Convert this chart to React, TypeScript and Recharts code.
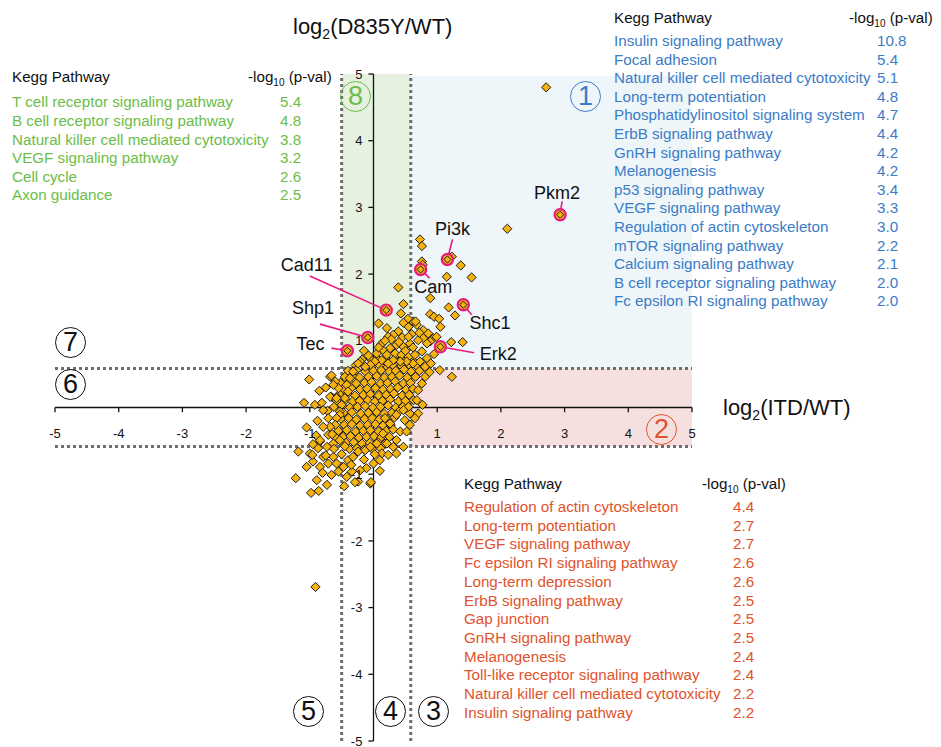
import React from 'react';
import { ScatterChart, Scatter, XAxis, YAxis, ReferenceArea, ReferenceLine } from 'recharts';

const FONT = '"Liberation Sans", Arial, Helvetica, sans-serif';

// ---------- data ----------
const outerPoints: [number, number][] = [
  [2.71, 4.80], [2.10, 2.68], [0.73, 2.52], [0.76, 2.42], [0.76, 2.19], [0.77, 2.14], [1.23, 2.26], [1.37, 2.13],
  [1.15, 1.96], [1.54, 1.95], [0.39, 1.80], [0.89, 1.64], [0.47, 1.55], [0.43, 1.41], [1.18, 1.50], [1.28, 1.38],
  [0.89, 1.40], [0.95, 1.36], [1.03, 1.33], [1.05, 1.21], [0.08, 1.26], [1.22, 0.98], [1.40, 0.98], [0.54, 1.33],
  [0.66, 1.29], [1.04, 0.56], [1.23, 0.46], [-1.01, 0.42], [-1.09, 0.07], [-0.92, 0.04], [-0.81, 0.07], [-0.66, 0.48],
  [-0.63, 0.34], [-0.68, 0.16], [-0.58, 0.14], [-0.71, -0.16], [-0.79, -0.04], [-0.84, -0.49], [-1.22, -1.06],
  [-0.98, -1.28], [-0.86, -1.25], [-0.89, -1.09], [-0.73, -1.16], [-0.80, -0.98], [-0.91, -2.69], [-0.46, -1.18],
  [-0.29, -1.12], [-0.04, -1.12], [0.10, -0.95], [-1.18, -0.66], [-0.96, -0.71], [0.47, 1.27], [0.55, 1.06],
];

const upperFanPoints: [number, number][] = [
  [0.21, 1.19], [0.39, 1.14], [0.31, 1.09], [0.23, 1.06], [0.55, 1.21], [0.62, 1.29], [0.68, 1.24], [0.78, 1.16],
  [0.86, 1.11], [0.94, 1.04], [0.89, 0.99], [0.84, 0.96], [0.99, 1.06], [0.78, 1.04], [0.70, 1.01], [0.57, 0.96],
  [0.47, 0.91], [0.36, 0.94], [0.26, 0.89], [0.15, 0.86], [0.05, 0.81], [0.21, 0.79], [0.34, 0.81], [0.44, 0.79],
  [0.55, 0.76], [0.65, 0.79], [0.76, 0.84], [0.84, 0.74], [0.73, 0.69], [0.62, 0.66], [0.52, 0.69], [0.42, 0.69],
  [0.31, 0.71], [0.23, 0.66], [0.13, 0.71], [0.02, 0.69], [-0.05, 0.64], [-0.13, 0.61], [-0.21, 0.69], [-0.24, 0.66],
  [0.81, 0.61], [0.81, 0.46], [0.76, 0.36], [0.70, 0.26], [0.68, 0.11], [0.77, 0.04], [0.70, -0.09], [0.65, -0.16],
  [0.57, -0.26], [0.52, -0.36],
  [0.12, 0.95], [0.28, 1.02], [0.45, 1.05], [0.60, 1.10], [0.72, 1.12], [0.50, 0.85], [0.62, 0.90], [0.40, 0.98],
  [0.18, 1.00], [0.08, 0.90], [-0.08, 0.78], [-0.15, 0.85], [0.95, 0.80], [0.90, 0.66], [0.88, 0.53],
];

const lowerLeftPoints: [number, number][] = [
  [-0.32, 0.54], [-0.37, 0.44], [-0.42, 0.34], [-0.40, 0.24], [-0.45, 0.14], [-0.50, 0.04], [-0.53, -0.06],
  [-0.58, 0.16], [-0.66, 0.16], [-0.68, 0.46], [-0.60, 0.39], [-0.55, 0.29], [-0.53, -0.11], [-0.58, -0.16],
  [-0.60, -0.26], [-0.68, -0.29], [-0.79, -0.29], [-0.71, -0.41], [-0.60, -0.44], [-0.53, -0.49], [-0.63, -0.54],
  [-0.73, -0.59], [-0.84, -0.51], [-0.87, -0.61], [-1.00, -0.69], [-0.79, -0.74], [-0.63, -0.74], [-0.71, -0.84],
  [-0.58, -0.84], [-0.47, -0.89], [-0.40, -0.79], [-0.32, -0.74], [-0.24, -0.66], [-0.13, -0.64], [-0.05, -0.59],
  [0.05, -0.54], [0.13, -0.69], [0.23, -0.71], [0.10, -0.79], [0.00, -0.84], [-0.11, -0.91], [-0.21, -0.94],
  [-0.34, -0.96], [-0.42, -1.04], [-0.55, -0.96], [-0.66, -1.01], [-0.84, -0.89], [-0.95, -0.81], [-1.05, -0.89],
  [-0.24, -1.11], [-0.05, -1.14],
  [-0.90, -0.42], [-0.95, -0.55], [-1.05, -0.30], [-0.88, -0.20], [-0.75, -0.72], [-0.50, -0.70], [-0.35, -0.86],
  [-0.15, -0.78], [0.02, -0.70], [-0.62, -0.62], [-0.45, -0.58], [-0.72, -0.05], [-0.65, -0.40], [-0.85, 0.25], [-0.75, 0.30],
];

const lowerRightPoints: [number, number][] = [
  [0.36, -0.49], [0.47, -0.59], [0.42, -0.36], [0.31, -0.59], [0.36, -0.69], [0.21, -0.54], [0.15, -0.39],
  [0.49, -0.19], [0.57, -0.09], [0.55, 0.01], [0.47, -0.04], [0.36, -0.11], [0.26, -0.24], [0.18, -0.16],
];

const corePoints: [number, number][] = [
  [-0.18, 0.72], [-0.05, 0.73], [0.08, 0.71], [0.19, 0.74], [0.33, 0.72], [0.41, 0.70], [0.52, 0.73], [0.61, 0.71],
  [-0.28, 0.63], [-0.16, 0.64], [-0.02, 0.62], [0.10, 0.63], [0.22, 0.61], [0.30, 0.64], [0.44, 0.62], [0.57, 0.63], [0.68, 0.62],
  [-0.40, 0.55], [-0.27, 0.56], [-0.13, 0.54], [0.00, 0.55], [0.12, 0.56], [0.25, 0.54], [0.35, 0.55], [0.48, 0.57], [0.59, 0.54], [0.72, 0.55],
  [-0.45, 0.46], [-0.33, 0.47], [-0.22, 0.45], [-0.08, 0.46], [0.05, 0.47], [0.17, 0.45], [0.29, 0.46], [0.41, 0.48], [0.53, 0.45], [0.66, 0.46],
  [-0.52, 0.37], [-0.38, 0.38], [-0.27, 0.36], [-0.14, 0.37], [-0.03, 0.38], [0.11, 0.36], [0.22, 0.37], [0.34, 0.39], [0.47, 0.36], [0.58, 0.37],
  [-0.47, 0.28], [-0.35, 0.29], [-0.21, 0.27], [-0.10, 0.28], [0.03, 0.29], [0.15, 0.27], [0.27, 0.28], [0.38, 0.30], [0.51, 0.27], [0.62, 0.28],
  [-0.52, 0.19], [-0.41, 0.20], [-0.29, 0.18], [-0.16, 0.19], [-0.05, 0.20], [0.08, 0.18], [0.20, 0.19], [0.32, 0.21], [0.45, 0.18], [0.56, 0.19],
  [-0.58, 0.10], [-0.44, 0.11], [-0.33, 0.09], [-0.22, 0.10], [-0.09, 0.11], [0.02, 0.09], [0.14, 0.10], [0.26, 0.12], [0.39, 0.09], [0.50, 0.10], [0.63, 0.11],
  [-0.62, 0.01], [-0.49, 0.02], [-0.37, 0.00], [-0.25, 0.01], [-0.13, 0.02], [-0.01, 0.00], [0.11, 0.01], [0.23, 0.03], [0.35, 0.00], [0.46, 0.01],
  [-0.47, -0.08], [-0.34, -0.07], [-0.20, -0.09], [-0.08, -0.08], [0.05, -0.07], [0.17, -0.09], [0.29, -0.08], [0.40, -0.06],
  [-0.51, -0.17], [-0.39, -0.16], [-0.27, -0.18], [-0.14, -0.17], [-0.02, -0.16], [0.09, -0.18], [0.22, -0.17], [0.33, -0.15],
  [-0.46, -0.26], [-0.34, -0.25], [-0.21, -0.27], [-0.09, -0.26], [0.03, -0.25], [0.15, -0.27], [0.27, -0.26],
  [-0.55, -0.35], [-0.42, -0.34], [-0.28, -0.36], [-0.16, -0.35], [-0.05, -0.34], [0.08, -0.36], [0.20, -0.35], [0.31, -0.33],
  [-0.48, -0.44], [-0.36, -0.43], [-0.23, -0.45], [-0.11, -0.44], [0.01, -0.43], [0.12, -0.45], [0.25, -0.44],
  [-0.43, -0.53], [-0.31, -0.52], [-0.18, -0.54], [-0.06, -0.53], [0.07, -0.52], [0.18, -0.54],
  [-0.38, -0.62], [-0.26, -0.61], [-0.15, -0.63], [-0.02, -0.62], [0.11, -0.61],
];

const geneNames = ['Pkm2', 'Pi3k', 'Cam', 'Shc1', 'Erk2', 'Cad11', 'Shp1', 'Tec'];
const geneX = [2.93, 1.16, 0.74, 1.41, 1.05, 0.20, -0.09, -0.41];
const geneY = [2.89, 2.22, 2.07, 1.54, 0.91, 1.46, 1.05, 0.85];
const geneLabelX = [2.88, 1.24, 0.94, 1.83, 1.96, -1.05, -0.95, -0.99];
const geneLabelY = [3.22, 2.67, 1.81, 1.27, 0.80, 2.14, 1.49, 0.95];
const leaderStartX = [2.96, 1.24, 0.88, 1.54, 1.58, -1.00, -0.84, -0.66];
const leaderStartY = [3.09, 2.52, 1.94, 1.39, 0.82, 1.97, 1.25, 0.89];

const xTicks = [-5, -4, -3, -2, -1, 1, 2, 3, 4, 5];
const yTicks = [5, 4, 3, 2, 1, -1, -2, -3, -4, -5];

const fcUp = 0.585;
const fcDownX = -0.5;
const fcDownY = -0.585;

const greenPathways = ['T cell receptor signaling pathway', 'B cell receptor signaling pathway', 'Natural killer cell mediated cytotoxicity', 'VEGF signaling pathway', 'Cell cycle', 'Axon guidance'];
const greenValues = ['5.4', '4.8', '3.8', '3.2', '2.6', '2.5'];

const bluePathways = ['Insulin signaling pathway', 'Focal adhesion', 'Natural killer cell mediated cytotoxicity', 'Long-term potentiation', 'Phosphatidylinositol signaling system', 'ErbB signaling pathway', 'GnRH signaling pathway', 'Melanogenesis', 'p53 signaling pathway', 'VEGF signaling pathway', 'Regulation of actin cytoskeleton', 'mTOR signaling pathway', 'Calcium signaling pathway', 'B cell receptor signaling pathway', 'Fc epsilon RI signaling pathway'];
const blueValues = ['10.8', '5.4', '5.1', '4.8', '4.7', '4.4', '4.2', '4.2', '3.4', '3.3', '3.0', '2.2', '2.1', '2.0', '2.0'];

const redPathways = ['Regulation of actin cytoskeleton', 'Long-term potentiation', 'VEGF signaling pathway', 'Fc epsilon RI signaling pathway', 'Long-term depression', 'ErbB signaling pathway', 'Gap junction', 'GnRH signaling pathway', 'Melanogenesis', 'Toll-like receptor signaling pathway', 'Natural killer cell mediated cytotoxicity', 'Insulin signaling pathway'];
const redValues = ['4.4', '2.7', '2.7', '2.6', '2.6', '2.5', '2.5', '2.5', '2.4', '2.4', '2.2', '2.2'];

// ---------- styles ----------
const GREEN = '#6cbd48';
const BLUE = '#3b7cc6';
const RED = '#e0532c';
const PINK = '#e8197f';
const MARKER = '#f6b20f';

const allPoints = [...corePoints, ...lowerRightPoints, ...lowerLeftPoints, ...upperFanPoints, ...outerPoints].map(([x, y]) => ({ x, y }));
const genePoints = geneNames.map((name, i) => ({ x: geneX[i], y: geneY[i], name }));
const geneLabels = geneNames.map((name, i) => ({ x: geneLabelX[i], y: geneLabelY[i], name }));

const Diamond = (props: any) => {
  const { cx, cy } = props;
  if (cx == null || cy == null) return null;
  const r = 4.6;
  return <polygon points={`${cx},${cy - r} ${cx + r},${cy} ${cx},${cy + r} ${cx - r},${cy}`} fill={MARKER} stroke="#1b1b1b" strokeWidth={1} />;
};

const HighlightShape = (props: any) => {
  const { cx, cy } = props;
  if (cx == null || cy == null) return null;
  const r = 3.6;
  return (
    <g>
      <circle cx={cx} cy={cy} r={5.6} fill={MARKER} stroke={PINK} strokeWidth={2.2} />
      <polygon points={`${cx},${cy - r} ${cx + r},${cy} ${cx},${cy + r} ${cx - r},${cy}`} fill={MARKER} stroke="#1b1b1b" strokeWidth={1} />
    </g>
  );
};

const LabelShape = (props: any) => {
  const { cx, cy, payload } = props;
  if (cx == null || cy == null) return null;
  return (
    <text x={cx} y={cy} textAnchor="middle" dominantBaseline="central" fontSize={18} fontFamily={FONT} fill="#111">
      {payload.name}
    </text>
  );
};

const abs = (left: number, top: number): React.CSSProperties => ({ position: 'absolute', left, top, whiteSpace: 'nowrap' });

function KeggTable(props: { nameX: number; headX: number; valX: number; headY: number; rowY: number; step: number; names: string[]; values: string[]; color: string }) {
  const { nameX, headX, valX, headY, rowY, step, names, values, color } = props;
  const base: React.CSSProperties = { fontFamily: FONT, fontSize: 15.2, lineHeight: '17px' };
  return (
    <>
      <div style={{ ...base, ...abs(nameX, headY - 9), color: '#111' }}>Kegg Pathway</div>
      <div style={{ ...base, ...abs(headX, headY - 9), color: '#111' }}>
        -log<span style={{ fontSize: 10, verticalAlign: '-4px', lineHeight: 0 }}>10</span> (p-val)
      </div>
      {names.map((n, i) => (
        <div key={'n' + i} style={{ ...base, ...abs(nameX, rowY + i * step - 9), color }}>{n}</div>
      ))}
      {values.map((v, i) => (
        <div key={'v' + i} style={{ ...base, ...abs(valX, rowY + i * step - 9), color }}>{v}</div>
      ))}
    </>
  );
}

const circledNums = [
  { n: '1', cx: 586, cy: 97, color: BLUE },
  { n: '2', cx: 662, cy: 430, color: RED },
  { n: '3', cx: 434, cy: 712, color: '#111' },
  { n: '4', cx: 391, cy: 712, color: '#111' },
  { n: '5', cx: 309, cy: 712, color: '#111' },
  { n: '6', cx: 71, cy: 385, color: '#111' },
  { n: '7', cx: 71, cy: 343, color: '#111' },
  { n: '8', cx: 356, cy: 97, color: GREEN },
];

export default function App() {
  return (
    <div style={{ position: 'absolute', left: 0, top: 0, width: 941, height: 747, background: '#fff', fontFamily: FONT }}>
      <ScatterChart width={941} height={747} margin={{ top: 74, right: 249, bottom: 6, left: 55 }}>
        <XAxis type="number" dataKey="x" domain={[-5, 5]} hide allowDataOverflow />
        <YAxis type="number" dataKey="y" domain={[-5, 5]} hide allowDataOverflow />

        <ReferenceArea x1={fcDownX} x2={fcUp} y1={fcUp} y2={5} fill="#e6f1df" fillOpacity={1} stroke="none" />
        <ReferenceArea x1={fcUp} x2={5} y1={fcUp} y2={4.97} fill="#eef6fa" fillOpacity={1} stroke="none" />
        <ReferenceArea x1={fcUp} x2={5} y1={fcDownY} y2={fcUp} fill="#f6e0df" fillOpacity={1} stroke="none" />

        <ReferenceLine x={fcDownX} stroke="#6e6e6e" strokeWidth={3} strokeDasharray="3 3" />
        <ReferenceLine x={fcUp} stroke="#6e6e6e" strokeWidth={3} strokeDasharray="3 3" />
        <ReferenceLine y={fcUp} stroke="#6e6e6e" strokeWidth={3} strokeDasharray="3 3" />
        <ReferenceLine y={fcDownY} stroke="#6e6e6e" strokeWidth={3} strokeDasharray="3 3" />

        <ReferenceLine y={0} stroke="#111" strokeWidth={1.3} />
        <ReferenceLine x={0} stroke="#111" strokeWidth={1.3} />

        {xTicks.map((t) => (
          <ReferenceLine
            key={'xt' + t}
            segment={[{ x: t, y: 0 }, { x: t, y: -0.07 }]}
            stroke="#111"
            strokeWidth={1.3}
            label={{ value: String(t), position: 'bottom', offset: 17, fontSize: 13, fill: '#111', fontFamily: FONT }}
          />
        ))}
        {yTicks.map((t) => (
          <ReferenceLine
            key={'yt' + t}
            segment={[{ x: -0.08, y: t }, { x: 0, y: t }]}
            stroke="#111"
            strokeWidth={1.3}
            label={{ value: String(t), position: 'left', offset: 6, fontSize: 13, fill: '#111', fontFamily: FONT }}
          />
        ))}

        {geneNames.map((g, i) => (
          <ReferenceLine
            key={'ld' + g}
            segment={[{ x: leaderStartX[i], y: leaderStartY[i] }, { x: geneX[i], y: geneY[i] }]}
            stroke={PINK}
            strokeWidth={1.6}
          />
        ))}

        <Scatter data={allPoints} shape={Diamond} isAnimationActive={false} />
        <Scatter data={genePoints} shape={HighlightShape} isAnimationActive={false} />
        <Scatter data={geneLabels} shape={LabelShape} isAnimationActive={false} />
      </ScatterChart>

      <div style={{ ...abs(293, 14), fontSize: 22, lineHeight: '26px', color: '#111' }}>
        log<span style={{ fontSize: 14, verticalAlign: '-5px', lineHeight: 0 }}>2</span>(D835Y/WT)
      </div>
      <div style={{ ...abs(723, 395), fontSize: 22, lineHeight: '26px', color: '#111' }}>
        log<span style={{ fontSize: 14, verticalAlign: '-5px', lineHeight: 0 }}>2</span>(ITD/WT)
      </div>

      {circledNums.map((c) => (
        <div
          key={'c' + c.n}
          style={{
            position: 'absolute', left: c.cx - 16, top: c.cy - 16, width: 29, height: 29,
            border: `1.5px solid ${c.color}`, borderRadius: '50%', color: c.color,
            fontSize: 27, lineHeight: '29px', textAlign: 'center', fontFamily: FONT,
          }}
        >
          {c.n}
        </div>
      ))}

      <KeggTable nameX={12} headX={248} valX={280} headY={77} rowY={102.3} step={18.6} names={greenPathways} values={greenValues} color={GREEN} />
      <KeggTable nameX={614} headX={849} valX={877} headY={18} rowY={41} step={18.6} names={bluePathways} values={blueValues} color={BLUE} />
      <KeggTable nameX={464} headX={702} valX={733} headY={484} rowY={507} step={18.7} names={redPathways} values={redValues} color={RED} />
    </div>
  );
}
